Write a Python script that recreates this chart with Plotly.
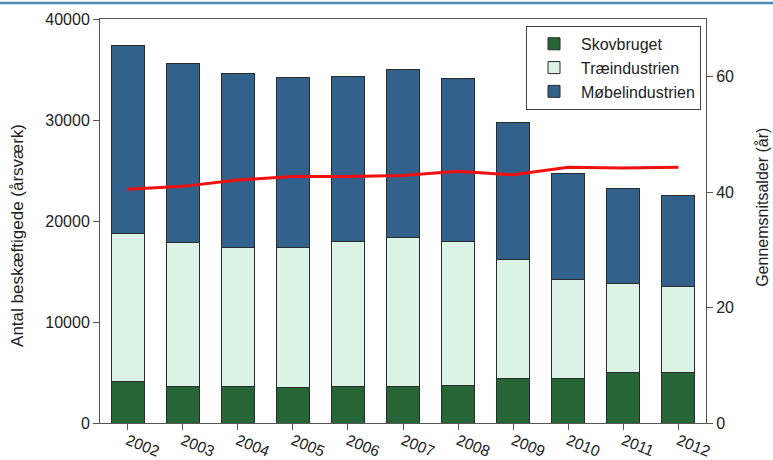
import plotly.graph_objects as go

years = ['2002', '2003', '2004', '2005', '2006', '2007', '2008', '2009', '2010', '2011', '2012']
skovbruget = [4060, 3660, 3600, 3500, 3660, 3600, 3760, 4390, 4360, 4980, 4980]
trae_top = [18810, 17920, 17330, 17420, 18020, 18320, 18020, 16180, 14160, 13800, 13480]
total_top = [37330, 35600, 34580, 34230, 34350, 35050, 34060, 29750, 24750, 23190, 22550]
alder = [40.5, 41.0, 42.1, 42.7, 42.7, 42.9, 43.6, 43.0, 44.3, 44.2, 44.3]

traeindustrien = [t - s for t, s in zip(trae_top, skovbruget)]
moebelindustrien = [t - s for t, s in zip(total_top, trae_top)]

font = 'Liberation Sans, Arial, sans-serif'
edge = dict(color='#2b2b2b', width=1)
axcol = '#555555'

fig = go.Figure()
fig.add_trace(go.Bar(x=years, y=skovbruget, name='Skovbruget',
                     marker=dict(color='#266535', line=edge), width=0.6))
fig.add_trace(go.Bar(x=years, y=traeindustrien, name='Træindustrien',
                     marker=dict(color='#dcf3e7', line=edge), width=0.6))
fig.add_trace(go.Bar(x=years, y=moebelindustrien, name='Møbelindustrien',
                     marker=dict(color='#32618c', line=edge), width=0.6))
fig.add_trace(go.Scatter(x=years, y=alder, yaxis='y2', mode='lines', showlegend=False,
                         line=dict(color='#f01010', width=3)))

fig.update_layout(
    width=773, height=460,
    barmode='stack',
    plot_bgcolor='white', paper_bgcolor='white',
    font=dict(family=font, size=16, color='#222222'),
    margin=dict(l=100, r=67, t=19, b=37),
    xaxis=dict(range=[-0.5, 10.5], tickangle=22, showline=True, linecolor=axcol,
               mirror=True, ticks='outside', ticklen=6, tickcolor=axcol,
               automargin=False, ticklabelstandoff=-4, tickfont=dict(size=15.5)),
    yaxis=dict(range=[0, 40000], dtick=10000, tickformat='d', showgrid=False, showline=True,
               linecolor=axcol, ticks='outside', ticklen=6, tickcolor=axcol,
               zeroline=False, automargin=False),
    yaxis2=dict(range=[0, 70], dtick=20, overlaying='y', side='right', showgrid=False,
                showline=True, linecolor=axcol, ticks='outside', ticklen=6,
                tickcolor=axcol, zeroline=False, automargin=False),
    legend=dict(x=0.703, y=0.983, xanchor='left', yanchor='top', traceorder='normal',
                bordercolor='#444444', borderwidth=1, bgcolor='white',
                font=dict(size=16), tracegroupgap=0, itemwidth=44),
    annotations=[
        dict(text='Antal beskæftigede (årsværk)', xref='paper', yref='paper',
             x=-0.1353, y=0.463, textangle=-90, showarrow=False,
             font=dict(size=17), xanchor='center', yanchor='middle'),
        dict(text='Gennemsnitsalder (år)', xref='paper', yref='paper',
             x=1.094, y=0.535, textangle=-90, showarrow=False,
             font=dict(size=16), xanchor='center', yanchor='middle'),
    ],
    shapes=[dict(type='line', xref='paper', yref='paper', x0=-0.2, x1=1.15,
                 y0=1.0396, y1=1.0396, line=dict(color='#4b8cb3', width=2.5))],
)

fig.write_html('out.html', config={'displayModeBar': False},
               post_script="document.body.style.margin='0';")
